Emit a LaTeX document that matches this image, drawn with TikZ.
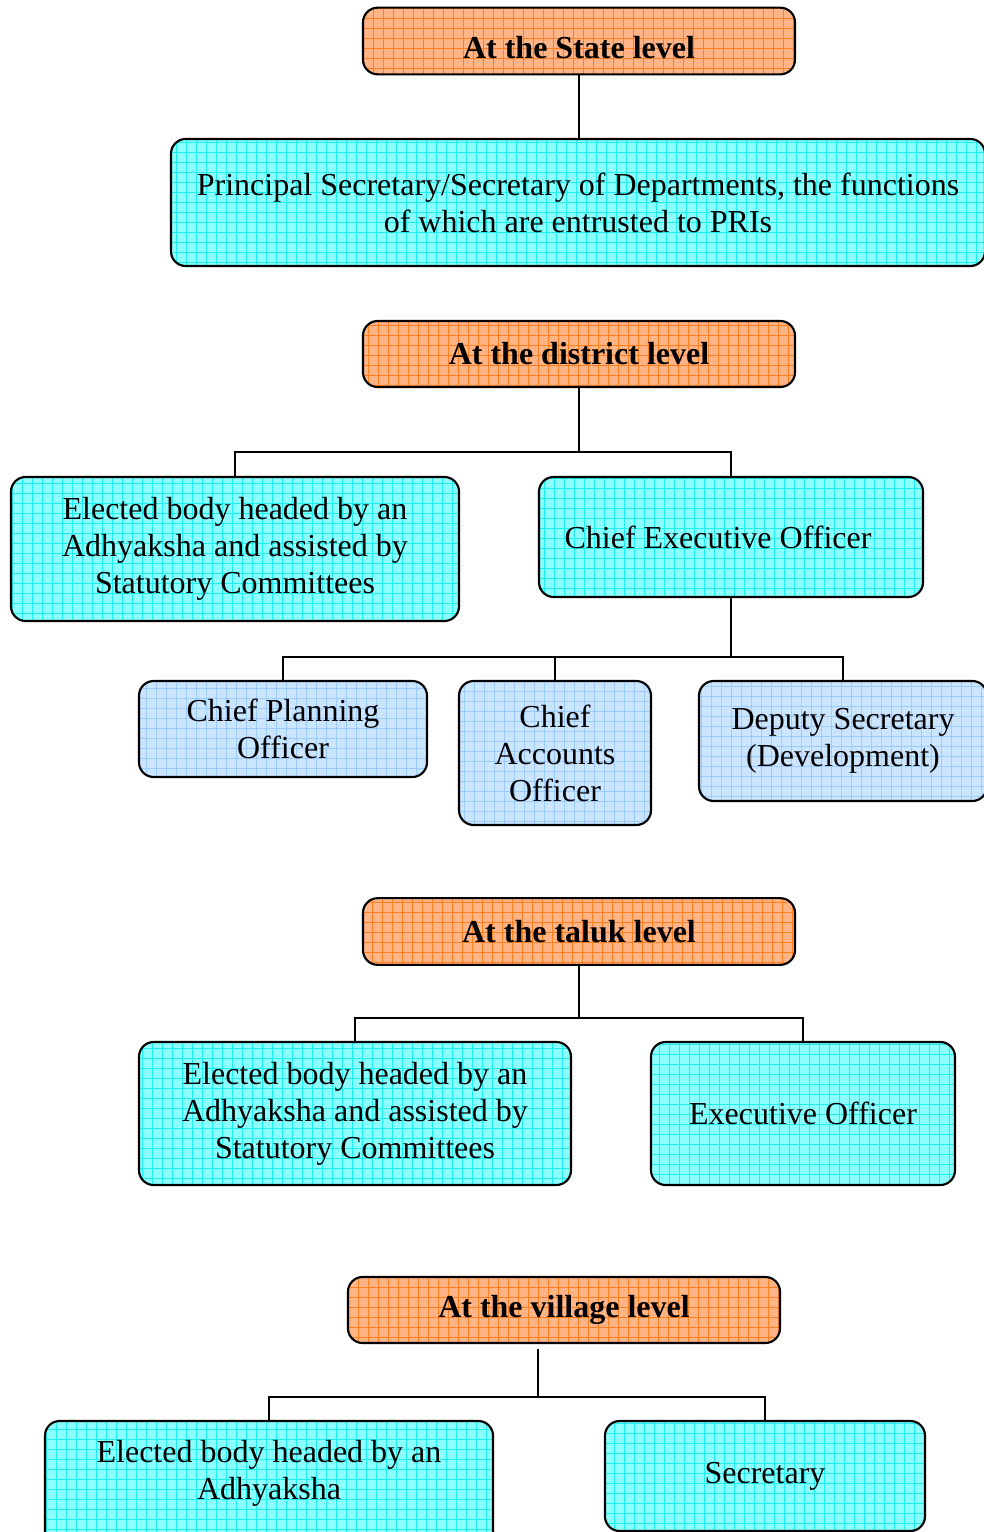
\documentclass[tikz,border=0pt]{standalone}
\usepackage{fontspec}
\setmainfont{Liberation Serif}
\usepackage{tikz}

\definecolor{lvlfill}{HTML}{FFB487}
\definecolor{lvlgrid}{HTML}{FF7F1E}
\definecolor{cyfill}{HTML}{8CFFFF}
\definecolor{cygrid}{HTML}{1EF0F0}
\definecolor{blfill}{HTML}{CCE5FF}
\definecolor{blgrid}{HTML}{9CCBFF}

\tikzset{
  gridbox/.style 2 args={draw=black, line width=1.6pt, rounded corners=11pt, align=center,
    font=\fontsize{24}{27.75}\selectfont, inner sep=0pt,
    path picture={
      \fill[#1] (path picture bounding box.south west) rectangle (path picture bounding box.north east);
      \draw[#2, line width=0.5pt, step=7.5pt] (path picture bounding box.south west) grid (path picture bounding box.north east);
    }},
  levelbox/.style={gridbox={lvlfill}{lvlgrid}, font=\fontsize{24}{27.75}\selectfont\bfseries,
    minimum width=324pt, minimum height=50pt},
  unitbox/.style={gridbox={cyfill}{cygrid}},
  officebox/.style={gridbox={blfill}{blgrid}},
  link/.style={line width=1.6pt}
}

\begin{document}
\begin{tikzpicture}[x=0.75pt, y=-0.75pt]
  \useasboundingbox (0,0) rectangle (983,1532);

  \node [levelbox, text height=26pt] (State) at (579,41) {At the State level};
  \node [unitbox, minimum width=610.5pt, minimum height=95.25pt] (Princ) at (578,202.5)
    {Principal Secretary/Secretary of Departments, the functions\\of which are entrusted to PRIs};

  \node [levelbox, minimum height=49.5pt] (Dist) at (579,354) {At the district level};
  \node [unitbox, minimum width=336pt, minimum height=108pt] (DElect) at (235,549)
    {Elected body headed by an\\Adhyaksha and assisted by\\Statutory Committees};
  \node [unitbox, minimum width=288pt, minimum height=90pt] (CEO) at (731,537)
    {Chief Executive Officer\hspace*{19.5pt}};
  \node [officebox, minimum width=216pt, minimum height=72pt] (CPO) at (283,729) {Chief Planning\\Officer};
  \node [officebox, minimum width=144pt, minimum height=108pt] (CAO) at (555,753) {Chief\\Accounts\\Officer};
  \node [officebox, minimum width=216pt, minimum height=90pt] (DS) at (843,741) {Deputy Secretary\\(Development)};
  \coordinate (Djoin) at (579,452);
  \coordinate (Cjoin) at (731,657);

  \node [levelbox] (Taluk) at (579,931.5) {At the taluk level};
  \node [unitbox, minimum width=324pt, minimum height=107.25pt] (TElect) at (355,1113.5)
    {Elected body headed by an\\Adhyaksha and assisted by\\Statutory Committees};
  \node [unitbox, minimum width=228pt, minimum height=107.25pt] (EO) at (803,1113.5) {Executive Officer};
  \coordinate (Tjoin) at (579,1018);

  \node [levelbox, minimum height=49.5pt] (Village) at (564,1310) {At the village level};
  \node [unitbox, minimum width=336pt, minimum height=108pt, text depth=35pt] (VElect) at (269,1493)
    {Elected body headed by an\\Adhyaksha};
  \node [unitbox, minimum width=240pt, minimum height=82.5pt] (Sec) at (765,1476) {Secretary};
  \coordinate (Vjoin) at (538,1397);

  \draw [link] (State.south) -- (State.south |- Princ.north);
  \draw [link] (Dist.south) -- (Djoin);
  \draw [link] (DElect.north) |- (Djoin) -| (CEO.north);
  \draw [link] (CEO.south) -- (Cjoin);
  \draw [link] (CPO.north) |- (Cjoin) -| (DS.north);
  \draw [link] (CAO.north) -- (CAO.north |- Cjoin);
  \draw [link] (Taluk.south) -- (Tjoin);
  \draw [link] (TElect.north) |- (Tjoin) -| (EO.north);
  \draw [link] (Vjoin |- Village.south) ++(0,5) -- (Vjoin);
  \draw [link] (VElect.north) |- (Vjoin) -| (Sec.north);
\end{tikzpicture}
\end{document}
